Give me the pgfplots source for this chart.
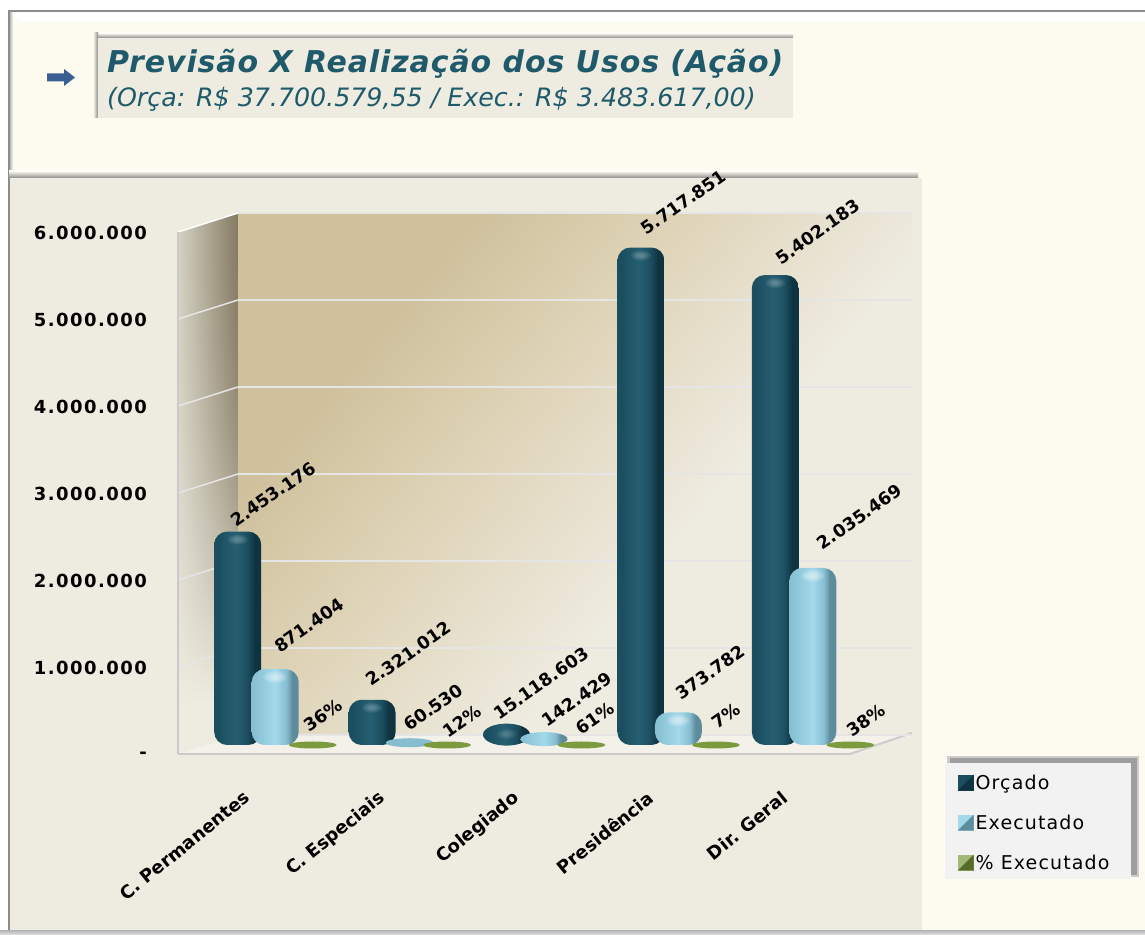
\documentclass[border=0pt]{standalone}
\usepackage{pgfplots}
\usepackage{pgfplotstable}
\usepackage{fontspec}
\pgfplotsset{compat=1.18}
\setmainfont{DejaVu Sans}
\newfontfamily\wideb[LetterSpace=3]{DejaVu Sans}
\newfontfamily\widey[LetterSpace=8]{DejaVu Sans}
\newfontfamily\widel[LetterSpace=6]{DejaVu Sans}
\definecolor{cream}{HTML}{FDFBF0}
\definecolor{panel}{HTML}{EEEBE0}
\definecolor{tit}{HTML}{1F5A6B}
\definecolor{wallA}{HTML}{CFC19C}
\definecolor{wallB}{HTML}{DFD4B8}
\definecolor{sideD}{HTML}{857A62}
\definecolor{sideL}{HTML}{D5D2C4}
\definecolor{o1}{HTML}{1B4F60}
\definecolor{o2}{HTML}{265F72}
\definecolor{o3}{HTML}{0F3340}
\definecolor{e1}{HTML}{86BDD0}
\definecolor{e2}{HTML}{A2DAEC}
\definecolor{e3}{HTML}{5F8C9C}
\definecolor{gr}{HTML}{7C9A3E}
\definecolor{arrowc}{HTML}{3A5F93}
\pgfdeclarehorizontalshading{orc}{100bp}{color(0bp)=(o1);color(25bp)=(o1);color(30bp)=(o1);color(48bp)=(o2);color(60bp)=(o1);color(68bp)=(o3);color(75bp)=(o3);color(100bp)=(o3)}
\pgfdeclarehorizontalshading{exe}{100bp}{color(0bp)=(e1);color(25bp)=(e1);color(50bp)=(e2);color(62bp)=(e1);color(68bp)=(e3);color(75bp)=(e3);color(100bp)=(e3)}
\pgfdeclarehorizontalshading{wallsh}{100bp}{color(0bp)=(wallA);color(30bp)=(wallA);color(43bp)=(wallB);color(60bp)=(panel);color(100bp)=(panel)}
\pgfdeclareplotmark{orcTop}{%
  \foreach \r in {10,8,6,4}{\fill[white,opacity=0.07,draw=none] (-37.5pt,-8pt) ellipse [x radius=\r pt,y radius=0.5*\r pt];}}
\pgfdeclareplotmark{exeTop}{%
  \foreach \r in {12,10,8,6,4}{\fill[white,opacity=0.12,draw=none] (0pt,-8pt) ellipse [x radius=\r pt,y radius=0.5*\r pt];}}
\pgfdeclareplotmark{ellO}{%
  \shade[shading=orc,rotate=3,draw=none] (-37.5pt,-10.5pt) ellipse [x radius=23.5pt,y radius=11pt];
  \foreach \r in {10,8,6,4}{\fill[white,opacity=0.05,draw=none] (-37.5pt,-10pt) ellipse [x radius=\r pt,y radius=0.5*\r pt];}}
\pgfdeclareplotmark{ellE}{%
  \shade[shading=exe,rotate=3,draw=none] (0pt,-6.5pt) ellipse [x radius=23.5pt,y radius=7pt];}
\pgfdeclareplotmark{flatE}{%
  \fill[e1,rotate=5,draw=none] (0pt,-3pt) ellipse [x radius=24pt,y radius=4.5pt];}
\pgfdeclareplotmark{flatG}{%
  \fill[gr,rotate=5,draw=none] (37.5pt,0pt) ellipse [x radius=24pt,y radius=3.5pt];}
\pgfplotstableread{
i orc orcl exe exel pct
0 2453176 2.453.176 871404 871.404 36
1 520000 2.321.012 60530 60.530 12
2 240000 15.118.603 142429 142.429 61
3 5717851 5.717.851 373782 373.782 7
4 5402183 5.402.183 2035469 2.035.469 38
}\dados
\pgfplotsset{
  bardl/.style={nodes near coords style={font=\fontsize{17.5}{18}\selectfont\bfseries,text=black,anchor=west,inner sep=0pt}},
  orcbar/.style={ybar,bar width=47pt,bar shift=-37.5pt,draw=none,shade,shading=orc},
  exebar/.style={ybar,bar width=47pt,bar shift=0pt,draw=none,shade,shading=exe},
}
% one bar: style, value column, label column, row, corner radius, label shift x, y
\newcommand\umabarra[7]{\addplot[#1,rounded corners=#5pt,forget plot,restrict x to domain=#4:#4,
  nodes near coords,point meta=explicit symbolic,
  nodes near coords style={xshift=#6pt,yshift=#7pt,rotate=35}] table[x=i,y=#2,meta=#3] {\dados};}
% one flat shape: mark, value column, label column, row, label shift x, y
\newcommand\umaforma[6]{\addplot[only marks,draw=none,mark=#1,forget plot,restrict x to domain=#4:#4,
  mark options={draw=none},
  nodes near coords,point meta=explicit symbolic,
  nodes near coords style={xshift=#5pt,yshift=#6pt,rotate=35}] table[x=i,y=#2,meta=#3] {\dados};}
% one percentage: row, label shift x, y
\newcommand\umapct[3]{\addplot[only marks,mark=flatG,forget plot,restrict x to domain=#1:#1,
  nodes near coords={\pgfmathprintnumber[assume math mode=true]{\pgfplotspointmeta}\%},point meta=explicit,
  nodes near coords style={xshift=#2pt,yshift=#3pt,rotate=35}] table[x=i,y=pct,meta=pct] {\dados};}
\newcommand\leg[2]{\addlegendimage{legend image code/.code={%
  \fill[#1] (0pt,-7.5pt) rectangle (15pt,7.5pt);
  \fill[#2] (0pt,-7.5pt) -- (7.5pt,0pt) -- (15pt,-7.5pt) -- cycle;
  \fill[#2] (15pt,7.5pt) -- (7.5pt,0pt) -- (15pt,-7.5pt) -- cycle;}}}
\begin{document}
\begin{tikzpicture}[x=1pt,y=1pt]
\useasboundingbox (0,0) rectangle (1145,934);
\begin{scope}[y=-1pt,yshift=934pt]
\fill[white] (0,0) rectangle (1145,934);
% frame
\fill[cream] (9,12) rectangle (1145,932);
\fill[white] (9,12) -- (1145,12) -- (1145,22) -- (20,22) -- cycle;
\shade[left color=gray!70,right color=cream] (9,12) rectangle (13,178);
\draw[gray!90,line width=2pt] (1145,11) -- (9,11) -- (9,934);
% title box
\shade[top color=cream,bottom color=gray!90] (93,33) rectangle (793,38);
\shade[left color=cream,right color=gray!90] (93,33) rectangle (98,118);
\fill[panel] (98,38) rectangle (793,118);
\fill[arrowc] (47,73.5) -- (64,73.5) -- (64,69) -- (75,77.5) -- (64,86) -- (64,81.5) -- (47,81.5) -- cycle;
\node[anchor=base west,inner sep=0pt,text=tit] at (107,73) {\fontsize{30}{32}\selectfont\wideb\bfseries\itshape Previsão X Realização dos Usos (Ação)};
\node[anchor=base west,inner sep=0pt,text=tit] at (107,107) {\fontsize{25.3}{28}\selectfont\itshape (Orça: R\$ 37.700.579,55 / Exec.: R\$ 3.483.617,00)};
% chart panel
\shade[top color=cream,bottom color=gray!90] (9,171) rectangle (918,178);
\fill[panel] (10,178) rectangle (922,930);
\shade[top color=gray!60,bottom color=gray!30] (0,930) rectangle (1145,934);
% back wall
\shade[shading=wallsh,shading angle=-40] (238,213) rectangle (912,735);
% side wall
\begin{scope}
\clip (178,232) -- (238,213) -- (238,735) -- (178,754) -- cycle;
\fill[panel] (178,213) rectangle (238,754);
\foreach \i in {0,...,163}{
  \pgfmathsetmacro\t{min(1,\i*3/490)}
  \pgfmathsetmacro\p{100*(1-\t*\t)}
  \pgfmathsetmacro\ya{213+\i*3}
  \pgfmathsetmacro\yb{213+\i*3+4}
  \colorlet{cr}{sideD!\p!panel}
  \colorlet{cl}{sideL!\p!panel}
  \shade[left color=cl,right color=cr] (178,\ya) rectangle (238,\yb);
}
\foreach \k in {1,...,5}{
  \draw[black!10,line width=1.5pt] (178,754-\k*87) -- (238,735-\k*87);
}
\end{scope}
% floor
\fill[white!30!panel] (178,754) -- (238,735) -- (912,735) -- (850,754) -- cycle;
\draw[white!60!gray,line width=2pt] (850,754) -- (912,733);
\draw[white!70,line width=1.5pt] (178,232) -- (238,213);
% legend box
\fill[black!20] (947,756) rectangle (1139,877);
\fill[black!38] (950,758) rectangle (1137,875);
\fill[black!5] (945,763) rectangle (1131,879);
\end{scope}
% wall grid
\begin{axis}[at={(238pt,199pt)},anchor=south west,scale only axis,width=674pt,height=522pt,
  xmin=0,xmax=1,ymin=0,ymax=6000000,axis line style={draw=none},scaled y ticks=false,
  xtick=\empty,ytick={0,1000000,2000000,3000000,4000000,5000000,6000000},yticklabels={},
  major tick length=0pt,ymajorgrids,grid style={draw=black!10,line width=2pt}]
\end{axis}
% front axis with labels
\begin{axis}[at={(178pt,180pt)},anchor=south west,scale only axis,width=672pt,height=522pt,
  xmin=-0.5,xmax=4.5,ymin=0,ymax=6000000,clip=false,scaled y ticks=false,
  axis x line*=bottom,axis y line*=left,
  axis line style={draw=white!58!gray,line width=2pt,-},
  major tick length=0pt,
  xtick={0,1,2,3,4},
  xticklabels={C. Permanentes,C. Especiais,Colegiado,Presidência,Dir. Geral},
  xticklabel style={rotate=39,anchor=north east,font=\fontsize{18}{18}\selectfont\bfseries,inner sep=0pt,yshift=-26pt,xshift=-24pt},
  ytick={0,1000000,2000000,3000000,4000000,5000000,6000000},
  yticklabels={-,1.000.000,2.000.000,3.000.000,4.000.000,5.000.000,6.000.000},
  yticklabel style={font=\fontsize{18}{20}\selectfont\widey\bfseries,anchor=east,inner sep=0pt,xshift=-31pt,yshift=-1pt},
]
\end{axis}
% bars
\begin{axis}[at={(208pt,189pt)},anchor=south west,scale only axis,width=672pt,height=522pt,
  xmin=-0.5,xmax=4.5,ymin=0,ymax=6000000,clip=false,hide axis,bardl,
  legend cell align=left,
  legend style={at={(1.116,-0.053)},anchor=north west,draw=none,fill=none,inner sep=0pt,
    font=\fontsize{19}{20}\selectfont\widel,row sep=20pt,
    /tikz/every even column/.append style={column sep=20pt}},
]
\leg{o1}{o3}\addlegendentry{Orçado}
\leg{e2}{e3}\addlegendentry{Executado}
\leg{gr!70!white}{gr!70!black}\addlegendentry{\% Executado}
\umabarra{orcbar}{orc}{orcl}{0}{13}{-42.5}{9}
\umabarra{orcbar}{orc}{orcl}{1}{13}{-41.5}{18}
\umaforma{ellO}{orc}{orcl}{2}{-48.5}{9}
\umabarra{orcbar}{orc}{orcl}{3}{13}{-35.5}{17}
\umabarra{orcbar}{orc}{orcl}{4}{13}{-35.5}{15}
\umabarra{exebar}{exe}{exel}{0}{13}{1}{21}
\umaforma{flatE}{exe}{exel}{1}{-4}{13}
\umaforma{ellE}{exe}{exel}{2}{0}{10}
\umabarra{exebar}{exe}{exel}{3}{13}{-1}{17}
\umabarra{exebar}{exe}{exel}{4}{13}{6}{23}
\umapct{0}{30.5}{18}
\umapct{1}{35.5}{12}
\umapct{2}{33.5}{15}
\umapct{3}{35.5}{21}
\umapct{4}{35.5}{13}
\addplot[only marks,mark=orcTop,forget plot,x filter/.expression={x==2 ? nan : x}] table[x=i,y=orc] {\dados};
\addplot[only marks,mark=exeTop,forget plot,x filter/.expression={(x==1 || x==2) ? nan : x}] table[x=i,y=exe] {\dados};
\end{axis}
\end{tikzpicture}
\end{document}
